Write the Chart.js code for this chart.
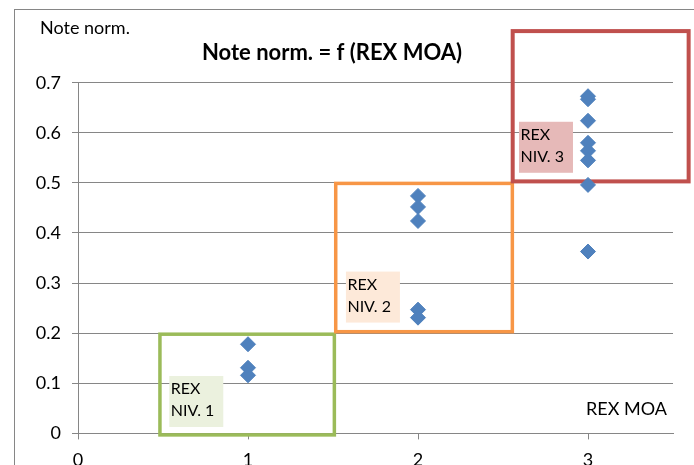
<!DOCTYPE html>
<html><head><meta charset="utf-8">
<script src="https://cdn.jsdelivr.net/npm/chart.js@4"></script>
<style>html,body{margin:0;padding:0;background:#fff;overflow:hidden}</style>
</head><body>
<canvas id="c" width="694" height="465"></canvas>
<script>
// ---- data ----
const rexLevels = [1, 2, 3];
const notesLevel1 = [0.178, 0.131, 0.116];
const notesLevel2 = [0.474, 0.452, 0.424, 0.247, 0.231];
const notesLevel3 = [0.673, 0.667, 0.624, 0.580, 0.564, 0.545, 0.496, 0.363];
const xTickValues = [0, 1, 2, 3];
const yTickValues = [0, 0.1, 0.2, 0.3, 0.4, 0.5, 0.6, 0.7];
const chartTitle = 'Note norm. = f (REX MOA)';
const yAxisTitle = 'Note norm.';
const xAxisTitle = 'REX MOA';
// zone annotations (data units)
const zoneNames = [['REX', 'NIV. 1'], ['REX', 'NIV. 2'], ['REX', 'NIV. 3']];
const zoneXRange = [[0.482, 1.508], [1.516, 2.555], [2.557, 3.592]];
const zoneYRange = [[-0.003, 0.198], [0.203, 0.499], [0.503, 0.803]];
const zoneLabelAnchor = [[0.537, 0.1146], [1.576, 0.323], [2.594, 0.622]];

// ---- styles ----
const FONT = 'Lato, "Noto Sans", sans-serif';
const zoneColors = ['#9BBB59', '#F79646', '#C0504D'];
const zoneLabelFills = ['#EBF1DE', '#FDE9D9', '#E6B9B8'];
const gridColor = '#868686';

const points = [];
[notesLevel1, notesLevel2, notesLevel3].forEach((arr, i) => {
  arr.forEach(v => points.push({x: rexLevels[i], y: v}));
});

const overlay = {
  id: 'overlay',
  beforeDraw(chart) {
    const ctx = chart.ctx;
    ctx.save();
    ctx.fillStyle = '#fff';
    ctx.fillRect(0, 0, chart.width, chart.height);
    ctx.strokeStyle = gridColor;
    ctx.lineWidth = 1;
    ctx.strokeRect(14.5, 9.5, 760, 520);
    ctx.restore();
  },
  beforeDatasetsDraw(chart) {
    const ctx = chart.ctx, xs = chart.scales.x, ys = chart.scales.y;
    ctx.save();
    zoneXRange.forEach((xr, i) => {
      const x1 = xs.getPixelForValue(xr[0]), x2 = xs.getPixelForValue(xr[1]);
      const y1 = ys.getPixelForValue(zoneYRange[i][1]), y2 = ys.getPixelForValue(zoneYRange[i][0]);
      ctx.strokeStyle = zoneColors[i];
      ctx.lineWidth = i === 2 ? 4 : 3.5;
      ctx.lineJoin = 'miter';
      ctx.strokeRect(x1, y1, x2 - x1, y2 - y1);
    });
    zoneLabelAnchor.forEach((a, i) => {
      const lx = xs.getPixelForValue(a[0]), ly = ys.getPixelForValue(a[1]);
      ctx.fillStyle = zoneLabelFills[i];
      ctx.fillRect(lx, ly, 54, 51);
      ctx.fillStyle = '#000';
      ctx.font = '16px ' + FONT;
      ctx.textAlign = 'left';
      ctx.textBaseline = 'alphabetic';
      ctx.fillText(zoneNames[i][0], lx + 1.5, ly + 18.5);
      ctx.fillText(zoneNames[i][1], lx + 1.5, ly + 40.5);
    });
    ctx.restore();
  },
  afterDraw(chart) {
    const ctx = chart.ctx;
    ctx.save();
    ctx.fillStyle = '#000';
    ctx.textBaseline = 'alphabetic';
    ctx.font = 'bold 22px ' + FONT;
    ctx.textAlign = 'center';
    ctx.fillText(chartTitle, 332, 60);
    ctx.font = '18px ' + FONT;
    ctx.textAlign = 'left';
    ctx.fillText(yAxisTitle, 40, 34);
    ctx.textAlign = 'right';
    ctx.fillText(xAxisTitle, 667, 415);
    ctx.restore();
  }
};

new Chart(document.getElementById('c'), {
  type: 'scatter',
  data: {
    datasets: [{
      data: points,
      pointStyle: 'rectRot',
      pointRadius: 7.5,
      pointHoverRadius: 7.5,
      backgroundColor: '#4F81BD',
      borderColor: '#4F81BD',
      borderWidth: 1
    }]
  },
  options: {
    responsive: false,
    animation: false,
    events: [],
    layout: {padding: {left: 0, right: 21, top: 82.7, bottom: 0}},
    plugins: {legend: {display: false}, tooltip: {enabled: false}, title: {display: false}},
    scales: {
      x: {
        type: 'linear', min: 0, max: 3.5,
        afterBuildTicks(s) { s.ticks = xTickValues.map(v => ({value: v})); },
        ticks: {color: '#000', padding: 10, font: {family: FONT, size: 18}, maxRotation: 0},
        grid: {drawOnChartArea: false, drawTicks: true, tickLength: 6, color: gridColor},
        border: {color: gridColor},
        afterFit(s) { s.height = 31.6; }
      },
      y: {
        min: 0, max: 0.7,
        afterBuildTicks(s) { s.ticks = yTickValues.map(v => ({value: v})); },
        ticks: {color: '#000', padding: 11, font: {family: FONT, size: 18}},
        grid: {color: gridColor, tickLength: 6},
        border: {color: gridColor},
        afterFit(s) { s.width = 78; }
      }
    }
  },
  plugins: [overlay]
});
</script>
</body></html>
